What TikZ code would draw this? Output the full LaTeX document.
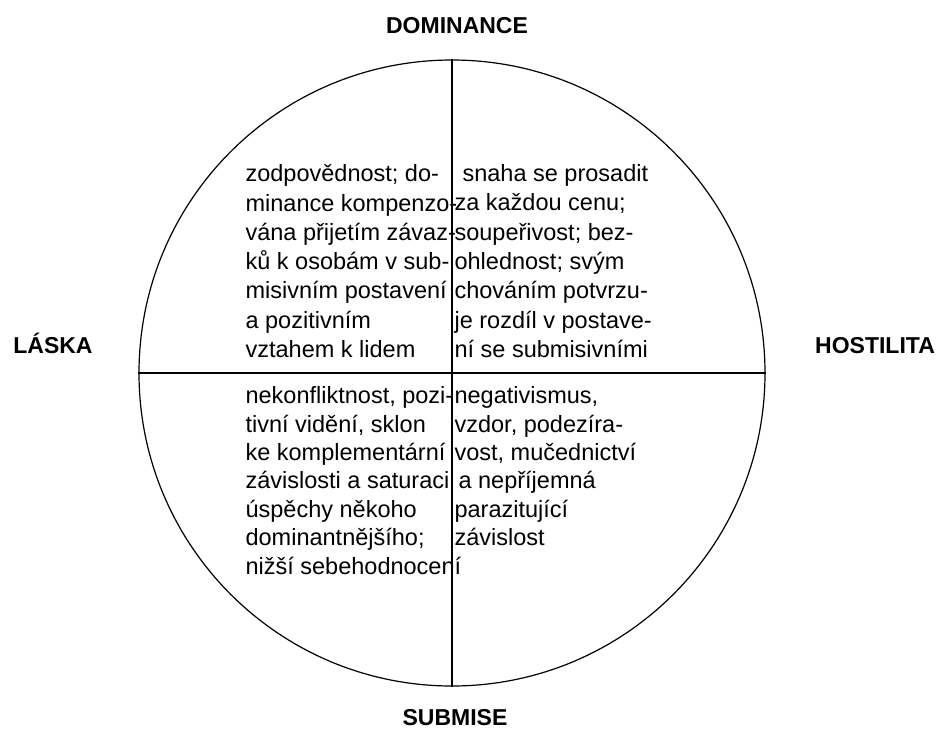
\documentclass[tikz,border=0pt]{standalone}
\usepackage{fontspec}
\setmainfont{Liberation Sans}
\begin{document}
\begin{tikzpicture}[x=1pt, y=-1pt,
        pole/.style={font=\fontsize{23}{28}\selectfont\bfseries, anchor=base, inner sep=0pt},
        trait/.style={font=\fontsize{23.5}{29.3}\selectfont, align=left, anchor=north west, inner sep=0pt},
        tight/.style={font=\fontsize{23.5}{28.4}\selectfont},
        line width=1.2pt
    ]
        \useasboundingbox (0,0) rectangle (941,729);
        \node[circle, draw, minimum size=626pt, inner sep=0pt] (wheel) at (452,373) {};
        \draw (wheel.north) -- (wheel.south);
        \draw (wheel.west) -- (wheel.east);

        \node[pole] (dom) at (457,33) {DOMINANCE};
        \node[pole] (sub) at (455,725) {SUBMISE};
        \node[pole] (las) at (53,353) {LÁSKA};
        \node[pole] (hos) at (875,353) {HOSTILITA};

        \node[trait] (tl) at (245,164) {zodpovědnost; do-\\minance kompenzo-\\vána přijetím závaz-\\ků k osobám v sub-\\misivním postavení\\a pozitivním\\vztahem k lidem};
        \node[trait] (tr) at (454,164) {\hspace{8pt}snaha se prosadit\\za každou cenu;\\soupeřivost; bez-\\ohlednost; svým\\chováním potvrzu-\\je rozdíl v postave-\\ní se submisivními};
        \node[trait, tight] (bl) at (245,386) {nekonfliktnost, pozi-\\tivní vidění, sklon\\ke komplementární\\závislosti a saturaci\\úspěchy někoho\\dominantnějšího;\\nižší sebehodnocení};
        \node[trait, tight] (br) at (454,386) {negativismus,\\vzdor, podezíra-\\vost, mučednictví\\\hspace{4pt}a nepříjemná\\parazitující\\závislost};
    \end{tikzpicture}
\end{document}
